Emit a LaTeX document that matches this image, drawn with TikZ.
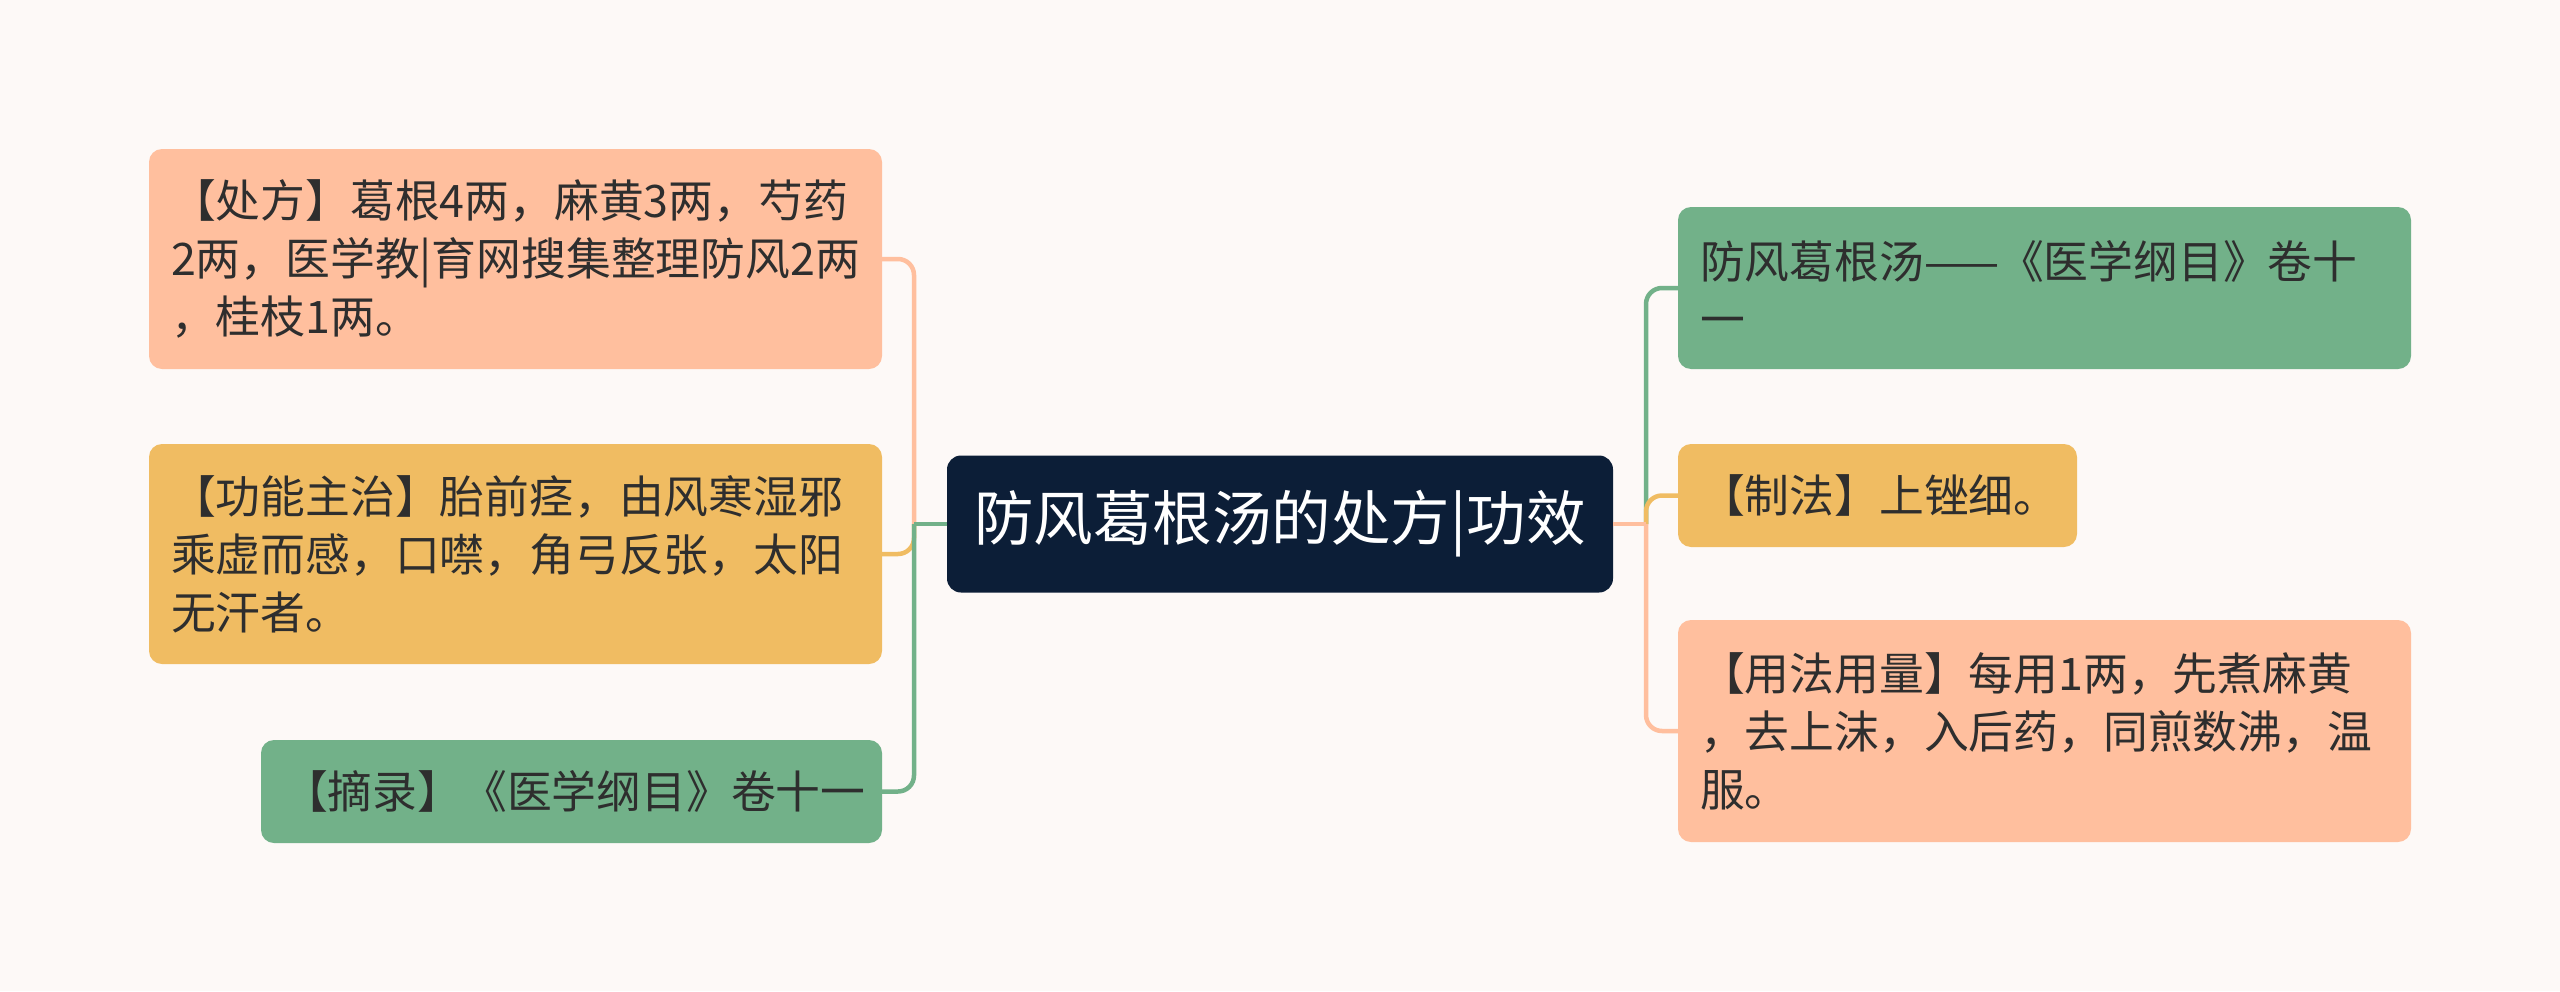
\documentclass[tikz,border=0pt]{standalone}
\usepackage{fontspec}
\setmainfont{Noto Sans CJK SC}
\definecolor{bg}{HTML}{FDF9F7}
\definecolor{salmon}{HTML}{FFBF9E}
\definecolor{gold}{HTML}{F0BC62}
\definecolor{sage}{HTML}{72B189}
\definecolor{navy}{HTML}{0C1E37}
\definecolor{txt}{HTML}{2E2E2E}
\tikzset{
  box/.style={rounded corners=13pt, inner xsep=22pt, inner ysep=0pt, outer sep=0pt, align=left,
    font=\fontsize{44.8}{58}\selectfont, text=txt, anchor=north west},
  conn/.style={line width=4.5pt},
}
\begin{document}
\begin{tikzpicture}[x=1pt,y=-1pt]
\fill[bg] (0,0) rectangle (2560,991);
\useasboundingbox (0,0) rectangle (2560,991);

\node[rounded corners=14pt, fill=navy, text=white, inner sep=0pt, outer sep=0pt, anchor=north west,
  minimum width=666, minimum height=137, font=\fontsize{59.5}{70}\selectfont] (c) at (947,455.5) {防风葛根汤的处方|功效};

\node[box, fill=salmon, minimum width=733, minimum height=220, text width=689] (b1) at (149,149)
  {【处方】葛根4两，麻黄3两，芍药\\2两，医学教|育网搜集整理防风2两\\，桂枝1两。};
\node[box, fill=gold, minimum width=733, minimum height=220, text width=689] (b2) at (149,444)
  {【功能主治】胎前痉，由风寒湿邪\\乘虚而感，口噤，角弓反张，太阳\\无汗者。};
\node[box, fill=sage, minimum width=621, minimum height=103, text width=577] (b3) at (261,740)
  {【摘录】《医学纲目》卷十一};

\node[box, fill=sage, minimum width=733, minimum height=162, text width=689] (r1) at (1678,207)
  {防风葛根汤——《医学纲目》卷十\\一};
\node[box, fill=gold, minimum width=399, minimum height=103, text width=355] (r2) at (1678,444)
  {【制法】上锉细。};
\node[box, fill=salmon, minimum width=733, minimum height=222, text width=689] (r3) at (1678,620)
  {【用法用量】每用1两，先煮麻黄\\，去上沫，入后药，同煎数沸，温\\服。};

\coordinate (lt) at (914,524);
\coordinate (rt) at (1646,524);

% left side
\draw[conn, salmon] (c.west) -- (lt);
\draw[conn, salmon, rounded corners=16pt] (lt) |- (b1.east);
\draw[conn, gold] (c.west) -- (lt);
\draw[conn, gold, rounded corners=16pt] (lt) |- (b2.east);
\draw[conn, sage] (c.west) -- (lt);
\draw[conn, sage, rounded corners=16pt] (lt) |- (b3.east);

% right side
\draw[conn, sage] (c.east) -- (rt);
\draw[conn, sage, rounded corners=16pt] (rt) |- (r1.west);
\draw[conn, gold] (c.east) -- (rt);
\draw[conn, gold, rounded corners=16pt] (rt) |- (r2.west);
\draw[conn, salmon] (c.east) -- (rt);
\draw[conn, salmon, rounded corners=16pt] (rt) |- (r3.west);
\end{tikzpicture}
\end{document}
